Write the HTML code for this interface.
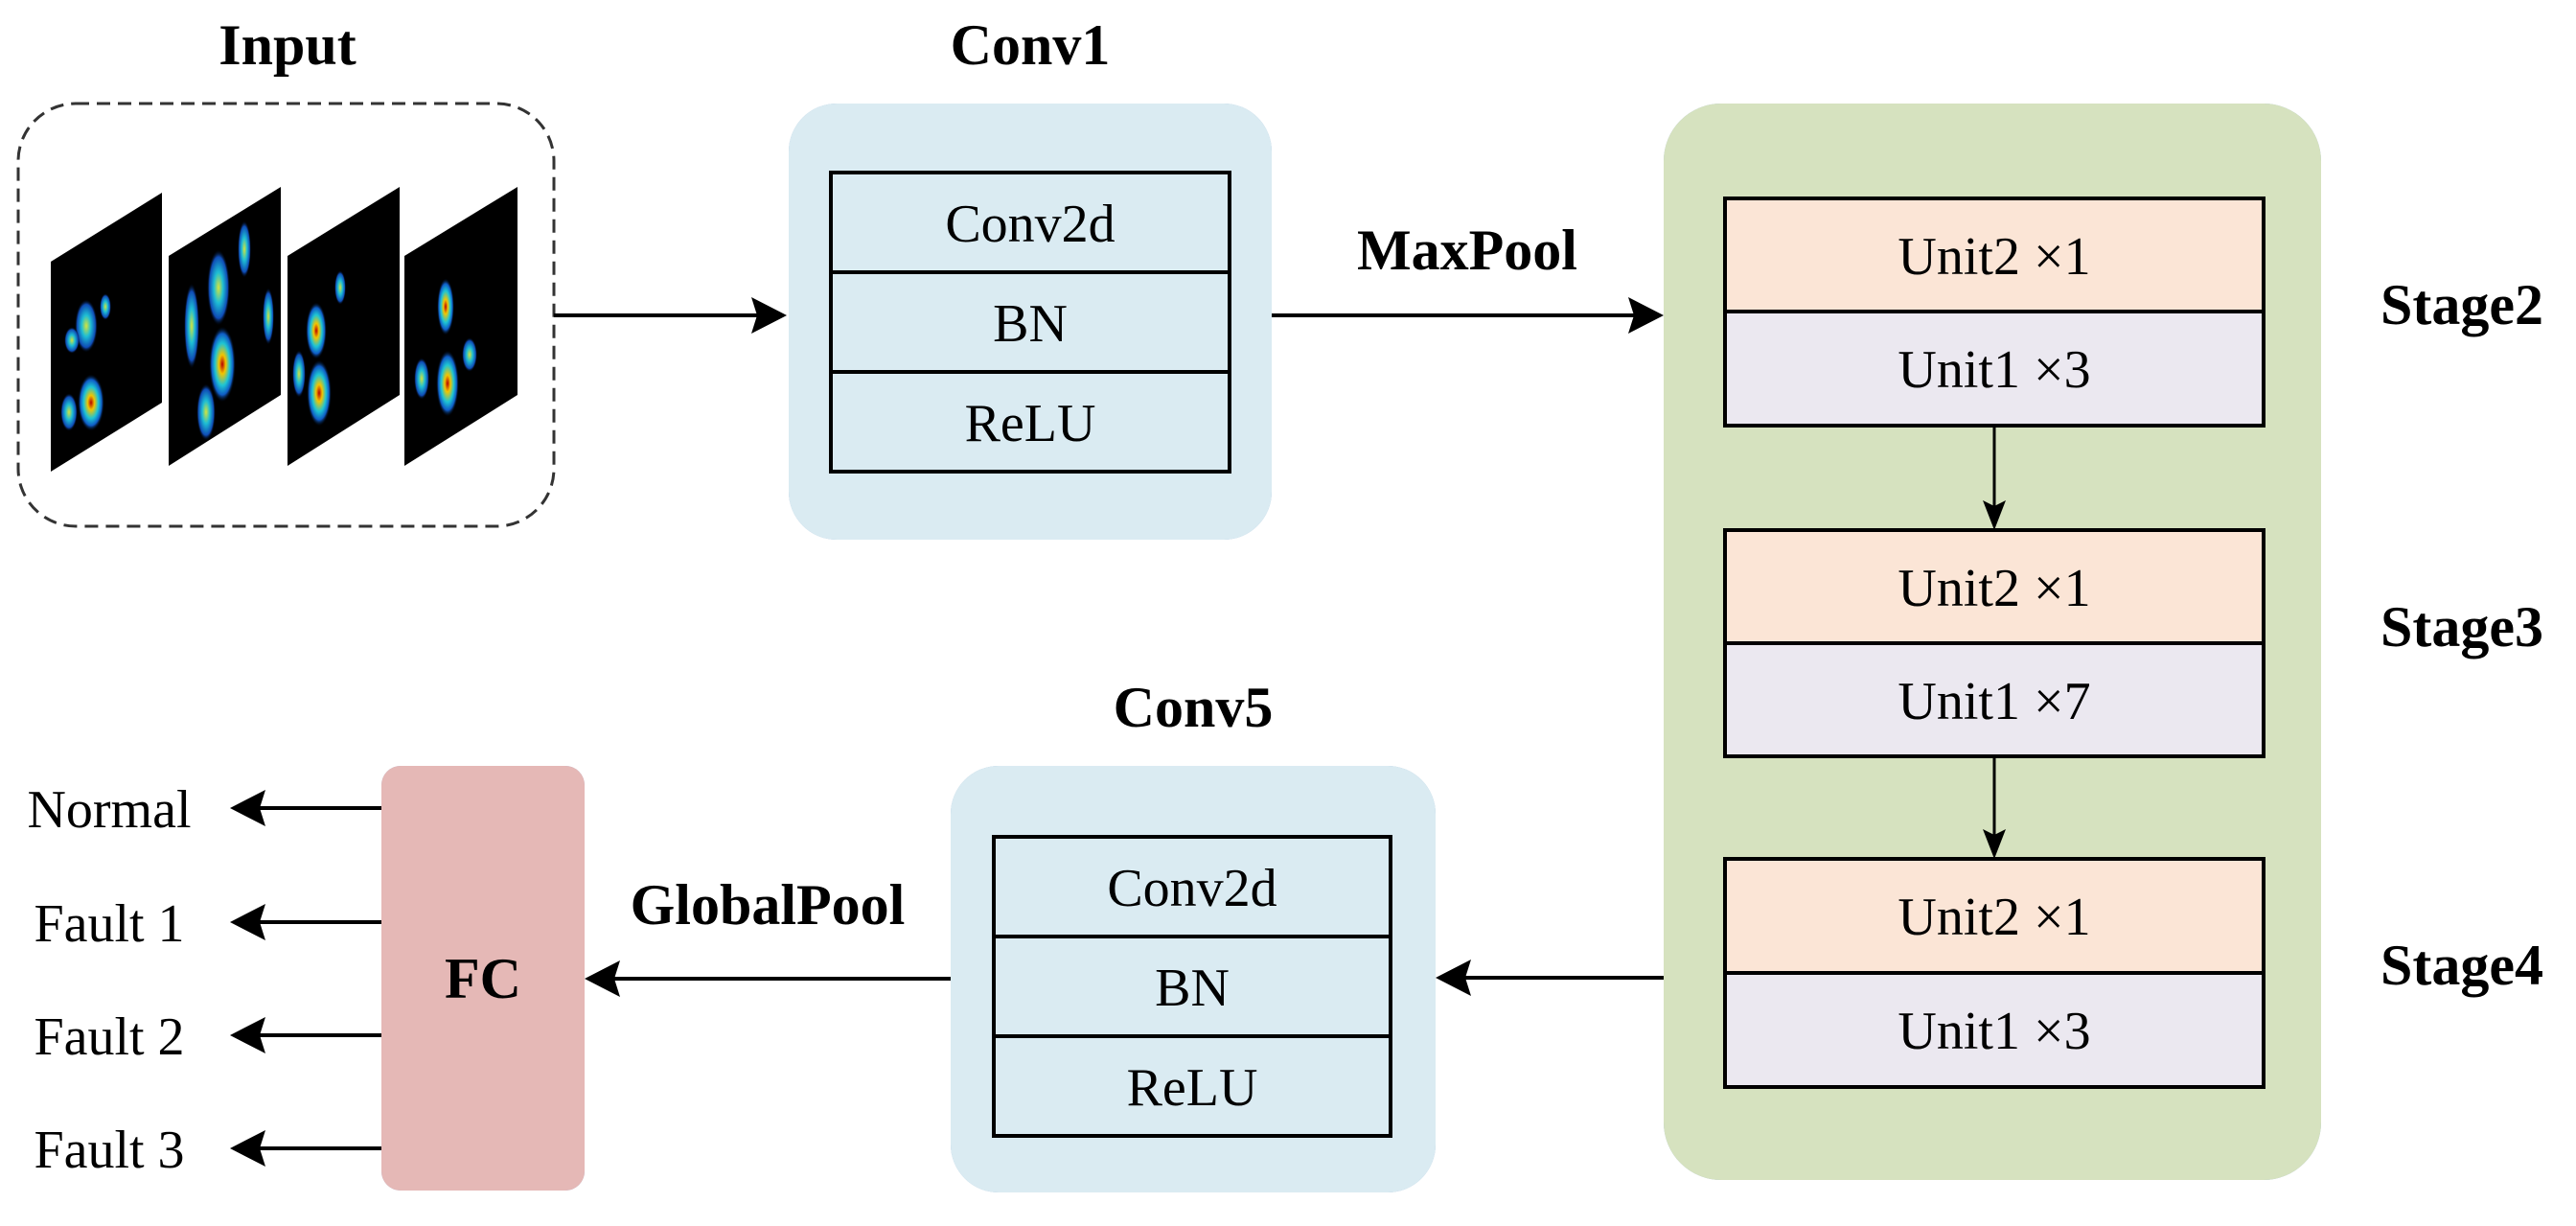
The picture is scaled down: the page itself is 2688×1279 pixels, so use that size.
<!DOCTYPE html>
<html><head><meta charset="utf-8"><style>
html,body{margin:0;padding:0;background:#fff;}
svg{display:block;}
text{font-family:"Liberation Serif",serif;fill:#000;}
.b{font-weight:bold;font-size:60px;}
.n{font-size:56px;}
</style></head><body>
<svg width="2688" height="1279" viewBox="0 0 2688 1279" xmlns="http://www.w3.org/2000/svg">
<defs>
<filter id="sh" x="-10%" y="-10%" width="120%" height="125%">
<feGaussianBlur in="SourceAlpha" stdDeviation="8"/><feOffset dy="10"/>
<feComponentTransfer><feFuncA type="linear" slope="0.18"/></feComponentTransfer>
<feFlood flood-color="#7fa8d0"/><feComposite operator="in" in2="SourceAlpha"/>
<feMerge><feMergeNode/><feMergeNode in="SourceGraphic"/></feMerge>
</filter>
<radialGradient id="blob">
<stop offset="0" stop-color="#c00000"/><stop offset="0.25" stop-color="#ffd000"/><stop offset="0.55" stop-color="#20d0e0"/><stop offset="0.8" stop-color="#1060d0"/><stop offset="1" stop-color="#000" stop-opacity="0"/>
</radialGradient>
<radialGradient id="blob2">
<stop offset="0" stop-color="#e0f040"/><stop offset="0.4" stop-color="#20c8e0"/><stop offset="0.8" stop-color="#1050c0"/><stop offset="1" stop-color="#000" stop-opacity="0"/>
</radialGradient>
</defs>

<!-- Titles -->
<text class="b" x="300" y="67" text-anchor="middle">Input</text>
<text class="b" x="1075" y="67" text-anchor="middle">Conv1</text>
<text class="b" x="1531" y="281" text-anchor="middle">MaxPool</text>
<text class="b" x="2484" y="338">Stage2</text>
<text class="b" x="2484" y="674">Stage3</text>
<text class="b" x="2484" y="1027">Stage4</text>
<text class="b" x="1245" y="758" text-anchor="middle">Conv5</text>
<text class="b" x="801" y="964" text-anchor="middle">GlobalPool</text>

<!-- Input dashed box -->
<rect x="19" y="108" width="559" height="441" rx="60" fill="#fff" stroke="#333" stroke-width="3" stroke-dasharray="14 8"/>
<!-- spectrogram panels -->
<g>
<polygon points="53,273 169,201 169,420 53,492" fill="#000"/>
<polygon points="176,267 293,195 293,412 176,486" fill="#000"/>
<polygon points="300,267 417,195 417,412 300,486" fill="#000"/>
<polygon points="422,267 540,195 540,412 422,486" fill="#000"/>
<g opacity="0.95">
<ellipse cx="90" cy="340" rx="12" ry="28" fill="url(#blob2)"/>
<ellipse cx="75" cy="355" rx="8" ry="14" fill="url(#blob2)"/>
<ellipse cx="95" cy="420" rx="14" ry="30" fill="url(#blob)"/>
<ellipse cx="72" cy="430" rx="9" ry="20" fill="url(#blob2)"/>
<ellipse cx="110" cy="320" rx="6" ry="14" fill="url(#blob2)"/>
<ellipse cx="228" cy="300" rx="12" ry="40" fill="url(#blob2)"/>
<ellipse cx="200" cy="340" rx="8" ry="45" fill="url(#blob2)"/>
<ellipse cx="232" cy="380" rx="14" ry="40" fill="url(#blob)"/>
<ellipse cx="255" cy="260" rx="7" ry="30" fill="url(#blob2)"/>
<ellipse cx="215" cy="430" rx="10" ry="30" fill="url(#blob2)"/>
<ellipse cx="280" cy="330" rx="6" ry="30" fill="url(#blob2)"/>
<ellipse cx="330" cy="345" rx="11" ry="30" fill="url(#blob)"/>
<ellipse cx="333" cy="410" rx="13" ry="35" fill="url(#blob)"/>
<ellipse cx="312" cy="390" rx="7" ry="25" fill="url(#blob2)"/>
<ellipse cx="355" cy="300" rx="6" ry="18" fill="url(#blob2)"/>
<ellipse cx="465" cy="320" rx="9" ry="30" fill="url(#blob)"/>
<ellipse cx="467" cy="400" rx="12" ry="35" fill="url(#blob)"/>
<ellipse cx="440" cy="395" rx="8" ry="22" fill="url(#blob2)"/>
<ellipse cx="490" cy="370" rx="8" ry="18" fill="url(#blob2)"/>
</g>
</g>

<!-- arrow input -> conv1 -->
<line x1="578" y1="329" x2="800" y2="329" stroke="#000" stroke-width="4"/>
<polygon points="821,329 784,310 790,329 784,348" fill="#000"/>

<!-- Conv1 -->
<rect x="823" y="108" width="504" height="455" rx="50" fill="#daebf2" filter="url(#sh)"/>
<rect x="867" y="180" width="416" height="312" fill="#daebf2" stroke="#000" stroke-width="4"/>
<line x1="867" y1="284" x2="1283" y2="284" stroke="#000" stroke-width="4"/>
<line x1="867" y1="388" x2="1283" y2="388" stroke="#000" stroke-width="4"/>
<text class="n" x="1075" y="252" text-anchor="middle">Conv2d</text>
<text class="n" x="1075" y="356" text-anchor="middle">BN</text>
<text class="n" x="1075" y="460" text-anchor="middle">ReLU</text>

<!-- arrow conv1 -> green -->
<line x1="1327" y1="329" x2="1715" y2="329" stroke="#000" stroke-width="4"/>
<polygon points="1736,329 1699,310 1705,329 1699,348" fill="#000"/>

<!-- Green box -->
<rect x="1736" y="108" width="686" height="1123" rx="60" fill="#d6e2bf" filter="url(#sh)"/>
<g filter="url(#sh)">
<rect x="1800" y="207" width="562" height="118" fill="#fbe5d6" stroke="#000" stroke-width="4"/>
<rect x="1800" y="325" width="562" height="119" fill="#ebe8f0" stroke="#000" stroke-width="4"/>
</g>
<g filter="url(#sh)">
<rect x="1800" y="553" width="562" height="118" fill="#fbe5d6" stroke="#000" stroke-width="4"/>
<rect x="1800" y="671" width="562" height="118" fill="#ebe8f0" stroke="#000" stroke-width="4"/>
</g>
<g filter="url(#sh)">
<rect x="1800" y="896" width="562" height="119" fill="#fbe5d6" stroke="#000" stroke-width="4"/>
<rect x="1800" y="1015" width="562" height="119" fill="#ebe8f0" stroke="#000" stroke-width="4"/>
</g>
<text class="n" x="2081" y="286" text-anchor="middle">Unit2 ×1</text>
<text class="n" x="2081" y="404" text-anchor="middle">Unit1 ×3</text>
<text class="n" x="2081" y="632" text-anchor="middle">Unit2 ×1</text>
<text class="n" x="2081" y="750" text-anchor="middle">Unit1 ×7</text>
<text class="n" x="2081" y="975" text-anchor="middle">Unit2 ×1</text>
<text class="n" x="2081" y="1094" text-anchor="middle">Unit1 ×3</text>
<line x1="2081" y1="444" x2="2081" y2="530" stroke="#000" stroke-width="3"/>
<polygon points="2081,553 2069,522 2081,528 2093,522" fill="#000"/>
<line x1="2081" y1="789" x2="2081" y2="873" stroke="#000" stroke-width="3"/>
<polygon points="2081,896 2069,865 2081,871 2093,865" fill="#000"/>

<!-- arrow green -> conv5 -->
<line x1="1736" y1="1020" x2="1518" y2="1020" stroke="#000" stroke-width="4"/>
<polygon points="1498,1020 1535,1001 1529,1020 1535,1039" fill="#000"/>

<!-- Conv5 -->
<rect x="992" y="799" width="506" height="445" rx="50" fill="#daebf2" filter="url(#sh)"/>
<rect x="1037" y="873" width="414" height="312" fill="#daebf2" stroke="#000" stroke-width="4"/>
<line x1="1037" y1="977" x2="1451" y2="977" stroke="#000" stroke-width="4"/>
<line x1="1037" y1="1081" x2="1451" y2="1081" stroke="#000" stroke-width="4"/>
<text class="n" x="1244" y="945" text-anchor="middle">Conv2d</text>
<text class="n" x="1244" y="1049" text-anchor="middle">BN</text>
<text class="n" x="1244" y="1153" text-anchor="middle">ReLU</text>

<!-- arrow conv5 -> FC -->
<line x1="992" y1="1021" x2="630" y2="1021" stroke="#000" stroke-width="4"/>
<polygon points="610,1021 647,1002 641,1021 647,1040" fill="#000"/>

<!-- FC -->
<rect x="398" y="799" width="212" height="443" rx="20" fill="#e5b8b6" filter="url(#sh)"/>
<text class="b" x="504" y="1041" text-anchor="middle">FC</text>

<!-- outputs -->
<g stroke="#000" stroke-width="4">
<line x1="398" y1="843" x2="260" y2="843"/>
<line x1="398" y1="962" x2="260" y2="962"/>
<line x1="398" y1="1080" x2="260" y2="1080"/>
<line x1="398" y1="1198" x2="260" y2="1198"/>
</g>
<polygon points="240,843 277,824 271,843 277,862" fill="#000"/>
<polygon points="240,962 277,943 271,962 277,981" fill="#000"/>
<polygon points="240,1080 277,1061 271,1080 277,1099" fill="#000"/>
<polygon points="240,1198 277,1179 271,1198 277,1217" fill="#000"/>
<text class="n" x="114" y="863" text-anchor="middle">Normal</text>
<text class="n" x="114" y="982" text-anchor="middle">Fault 1</text>
<text class="n" x="114" y="1100" text-anchor="middle">Fault 2</text>
<text class="n" x="114" y="1218" text-anchor="middle">Fault 3</text>
</svg>
</body></html>
